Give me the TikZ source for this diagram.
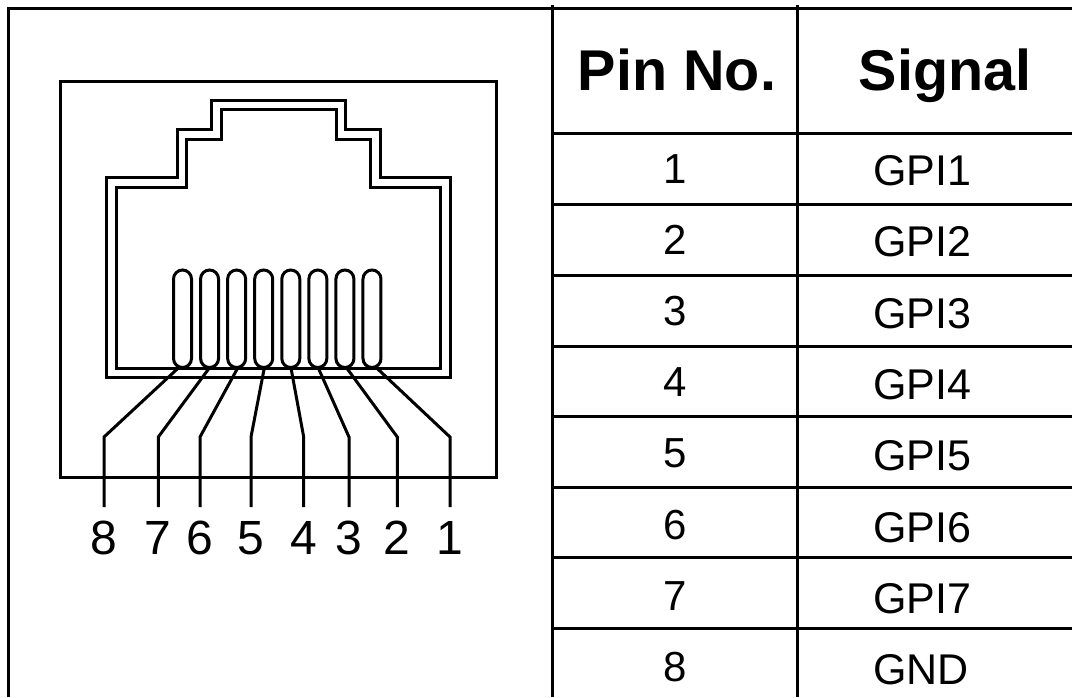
\documentclass[tikz,border=0pt]{standalone}
\usepackage{fontspec}
\setmainfont{Liberation Sans}
\begin{document}
\begin{tikzpicture}[x=1pt,y=-1pt,line cap=butt,line join=miter,
    frame/.style={line width=3.6pt},
    wire/.style={line width=3pt},
    head/.style={font=\fontsize{57.5}{60}\selectfont\bfseries,anchor=base,inner sep=0pt},
    pinlabel/.style={font=\fontsize{42}{44}\selectfont,anchor=base,inner sep=0pt},
    siglabel/.style={font=\fontsize{43}{45}\selectfont,anchor=base west,inner sep=0pt},
    numlabel/.style={font=\fontsize{48}{50}\selectfont,anchor=base,inner sep=0pt}]
    \useasboundingbox (0,0) rectangle (1072,697);
    % table
    \draw[frame] (8.5,697) -- (8.5,8.5) -- (1072,8.5);
    \draw[wire] (552,5) -- (552,697) (797.5,5) -- (797.5,697);
    \foreach \Y in {133,204,275,346,416,487,557,628}
        {\draw[wire] (552,\Y) -- (1072,\Y);}
    \node[head] (pinhead) at (677,90.7) {Pin No.};
    \node[head] (sighead) at (945,90.7) {Signal};
    \foreach \N/\S [count=\i from 0] in {1/GPI1,2/GPI2,3/GPI3,4/GPI4,5/GPI5,6/GPI6,7/GPI7,8/GND}
        {\node[pinlabel] (pin\N) at (675,183+71.2*\i) {\N};
         \node[siglabel] (sig\N) at (873,185.5+71.3*\i) {\S};}
    % jack
    \draw[wire] (60,81) rectangle (496.7,477.7);
    \draw[wire] (106,377.7) -- (106,177.7) -- (177.7,177.7) -- (177.7,129.3) -- (211.7,129.3)
        -- (211.7,100) -- (345.7,100) -- (345.7,129.3) -- (380,129.3) -- (380,177.7)
        -- (450,177.7) -- (450,377.7) -- cycle;
    \draw[wire] (116,368.3) -- (116,187) -- (186.7,187) -- (186.7,139) -- (221.7,139)
        -- (221.7,109.3) -- (336,109.3) -- (336,139) -- (370.7,139) -- (370.7,187)
        -- (440.7,187) -- (440.7,368.3) -- cycle;
    \foreach \i in {0,...,7}
        {\draw[wire,rounded corners=9pt] (173.5+27.07*\i,270) rectangle (191.5+27.07*\i,367.5);}
    % leads
    \foreach \A/\B/\N in {178.3/104/8,209.3/158.3/7,237.7/200/6,264.3/251/5,291/303.7/4,318.3/349/3,346.7/397.3/2,376.7/450/1}
        {\draw[wire] (\A,368) -- (\B,437) -- (\B,507);
         \node[numlabel] (num\N) at (\B,554) {\N};}
\end{tikzpicture}
\end{document}
